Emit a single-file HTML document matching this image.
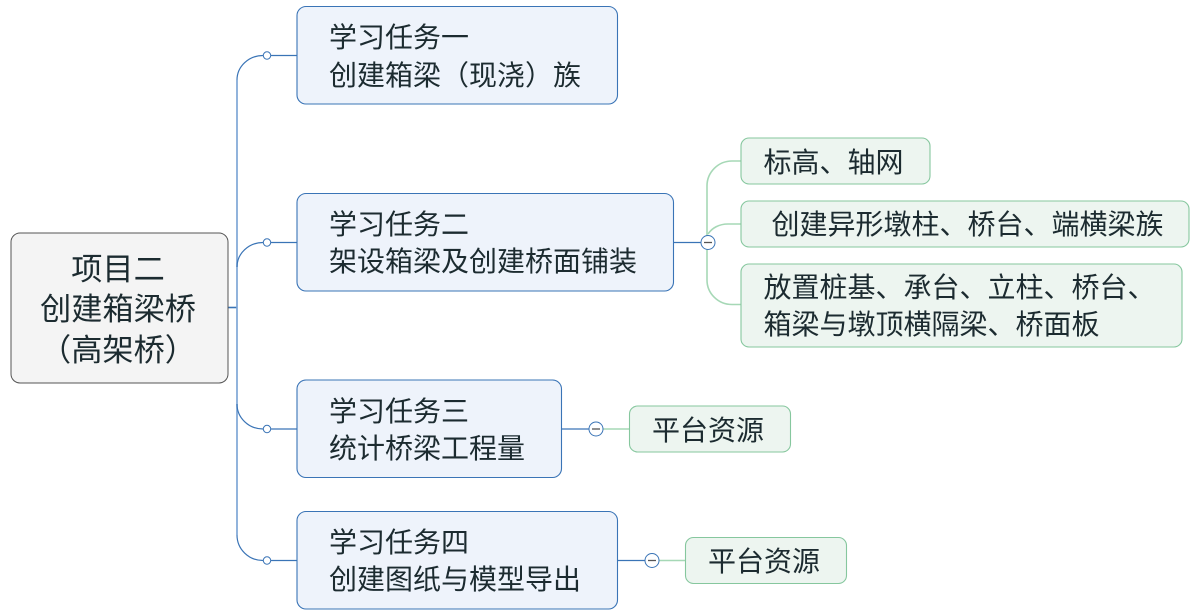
<!DOCTYPE html>
<html lang="zh"><head><meta charset="utf-8"><style>
html,body{margin:0;padding:0;background:#fff}
svg{display:block}
text{font-family:"Liberation Sans","Noto Sans CJK SC",sans-serif;font-size:28px;fill:#1c2b30}
.b{fill:#eef3fb;stroke:#3a74b6;stroke-width:1.1}
.g{fill:#edf5f0;stroke:#86c79e;stroke-width:1.1}
.bl{fill:none;stroke:#3a74b6;stroke-width:1.2}
.bt{fill:none;stroke:#7ea6d6;stroke-width:1.7}
.gl{fill:none;stroke:#a6d8b6;stroke-width:1.6}
.c{fill:#fff;stroke:#3a74b6;stroke-width:1}
.m{stroke:#555;stroke-width:1.3}
</style></head><body>
<svg width="1195" height="616" viewBox="0 0 1195 616" xmlns="http://www.w3.org/2000/svg">
<path d="M228 307.500H237" fill="none" stroke="#3a74b6" stroke-width="1.6"/>
<path class="bt" d="M237 80V535"/>
<path class="bl" d="M237 80A26 24.500 0 0 1 263 55.500M271 55.500H297"/>
<path class="bl" d="M237 267A26 24.500 0 0 1 263 242.500M271 242.500H297"/>
<path class="bl" d="M237 404A26 25 0 0 0 263 429M271 429H297"/>
<path class="bl" d="M237 535A26 25.500 0 0 0 263 560.500M271 560.500H297"/>
<circle class="c" cx="267" cy="55.500" r="3.700"/>
<circle class="c" cx="267" cy="242.500" r="3.700"/>
<circle class="c" cx="267" cy="429" r="3.700"/>
<circle class="c" cx="267" cy="560.500" r="3.700"/>

<path class="gl" d="M707 242V186A25 25 0 0 1 732 161H741"/>
<path class="gl" d="M707 242V280A25 24.500 0 0 0 732 304.500H741"/>
<path class="gl" d="M708 234C712 228 719 224 728 224H741"/>
<path class="bl" d="M674 242.500H701"/>
<circle class="c" cx="708" cy="242.500" r="7"/>
<path class="m" d="M704 242.500H712"/>

<path class="bl" d="M562 429H589"/>
<path class="gl" d="M603 429H630"/>
<circle class="c" cx="596" cy="429" r="7"/>
<path class="m" d="M592 429H600"/>

<path class="bl" d="M618 560.500H645"/>
<path class="gl" d="M659 560.500H686"/>
<circle class="c" cx="652" cy="560.500" r="7"/>
<path class="m" d="M648 560.500H656"/>

<rect x="11" y="233" width="217" height="150" rx="9" fill="#f4f4f4" stroke="#555"/>
<rect class="b" x="297" y="6.500" width="320.500" height="97.500" rx="9"/>
<rect class="b" x="297" y="193.500" width="376.500" height="97.500" rx="9"/>
<rect class="b" x="297" y="380" width="264.500" height="97.500" rx="9"/>
<rect class="b" x="297" y="511.500" width="320.500" height="97.500" rx="9"/>
<rect class="g" x="741" y="138" width="189" height="46" rx="8"/>
<rect class="g" x="741" y="201" width="448" height="46" rx="8"/>
<rect class="g" x="741" y="264" width="441" height="83" rx="8"/>
<rect class="g" x="629.500" y="406" width="161" height="46" rx="8"/>
<rect class="g" x="685.500" y="537.500" width="161" height="46" rx="8"/>

<g text-anchor="middle">
<text x="118" y="280" style="font-size:31.200px">项目二</text>
<text x="118" y="320" style="font-size:31.200px">创建箱梁桥</text>
<text x="118" y="361" style="font-size:31.200px">（高架桥）</text>
</g>
<text x="329" y="47">学习任务一</text>
<text x="329" y="85">创建箱梁（现浇）族</text>
<text x="329" y="234">学习任务二</text>
<text x="329" y="271">架设箱梁及创建桥面铺装</text>
<text x="329" y="421">学习任务三</text>
<text x="329" y="458">统计桥梁工程量</text>
<text x="329" y="552">学习任务四</text>
<text x="329" y="589">创建图纸与模型导出</text>
<text x="763.500" y="172">标高、轴网</text>
<text x="771.500" y="234">创建异形墩柱、桥台、端横梁族</text>
<text x="763.500" y="297">放置桩基、承台、立柱、桥台、</text>
<text x="763.500" y="334">箱梁与墩顶横隔梁、桥面板</text>
<text x="652" y="440">平台资源</text>
<text x="708" y="571">平台资源</text>
</svg>
</body></html>
